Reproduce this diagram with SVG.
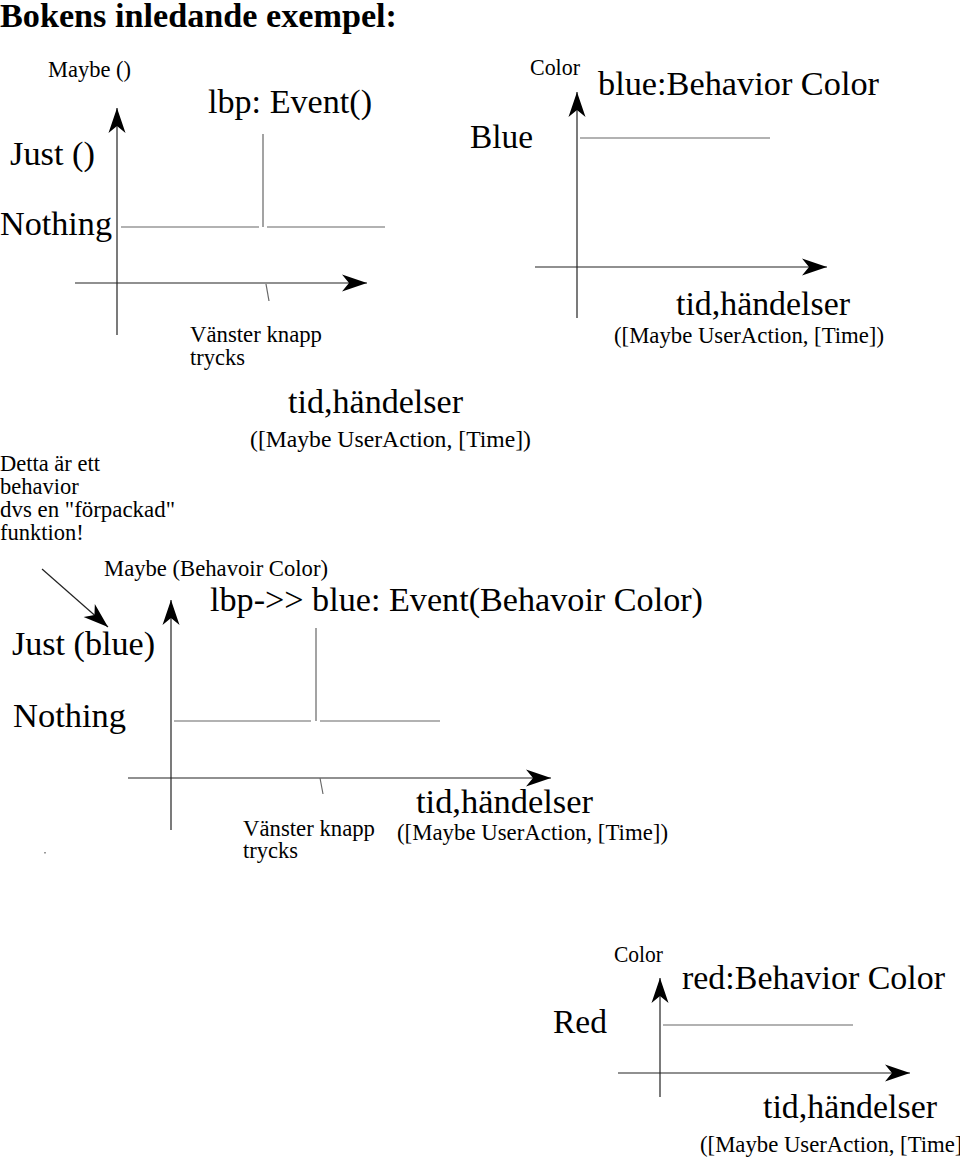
<svg xmlns="http://www.w3.org/2000/svg" width="960" height="1164" viewBox="0 0 960 1164">
  <style>
    text { font-family: "Liberation Serif", "Times New Roman", serif; fill: #000; }
    .big { font-size: 34px; }
    .small { font-size: 22.5px; }
    .title { font-size: 34px; font-weight: bold; }
    .axis { stroke: #222; stroke-width: 1.2; fill: none; }
    .level { stroke: #666; stroke-width: 1.2; fill: none; }
  </style>
  <defs>
    <marker id="arr" markerUnits="userSpaceOnUse" markerWidth="30" markerHeight="20" viewBox="-26 -10 28 20" refX="0" refY="0" orient="auto">
      <path d="M0,0 L-25,-8.5 L-18,0 L-25,8.5 Z" fill="#000"/>
    </marker>
  </defs>
  <rect width="960" height="1164" fill="#fff"/>

  <text id="title" class="title" x="0" y="27" textLength="397" lengthAdjust="spacingAndGlyphs">Bokens inledande exempel:</text>

  <g id="chart-lbp">
    <text class="small" x="48" y="77" textLength="83" lengthAdjust="spacingAndGlyphs">Maybe ()</text>
    <text class="big" x="208" y="113" textLength="164" lengthAdjust="spacingAndGlyphs">lbp: Event()</text>
    <text class="big" x="10" y="165" textLength="85" lengthAdjust="spacingAndGlyphs">Just ()</text>
    <text class="big" x="0" y="235" textLength="112" lengthAdjust="spacingAndGlyphs">Nothing</text>
    <line class="axis" x1="117" y1="335" x2="117" y2="108" marker-end="url(#arr)"/>
    <line class="axis" x1="75" y1="283" x2="367" y2="283" marker-end="url(#arr)"/>
    <line class="level" x1="121" y1="227" x2="259" y2="227"/>
    <line class="level" x1="263" y1="134" x2="263" y2="227"/>
    <line class="level" x1="267" y1="227" x2="385" y2="227"/>
    <line class="level" x1="266" y1="284" x2="269" y2="301"/>
    <text class="small" x="190" y="342" textLength="132" lengthAdjust="spacingAndGlyphs">Vänster knapp</text>
    <text class="small" x="190" y="365">trycks</text>
    <text class="big" x="288" y="413" textLength="175" lengthAdjust="spacingAndGlyphs">tid,händelser</text>
    <text class="small" x="250" y="447" textLength="281" lengthAdjust="spacingAndGlyphs">([Maybe UserAction, [Time])</text>
  </g>

  <g id="note">
    <text class="small" x="0" y="471">Detta är ett</text>
    <text class="small" x="0" y="494">behavior</text>
    <text class="small" x="0" y="517" textLength="175" lengthAdjust="spacingAndGlyphs">dvs en "förpackad"</text>
    <text class="small" x="0" y="540">funktion!</text>
  </g>

  <g id="chart-blue">
    <text class="small" x="530" y="75" textLength="50" lengthAdjust="spacingAndGlyphs">Color</text>
    <text class="big" x="598" y="95" textLength="281" lengthAdjust="spacingAndGlyphs">blue:Behavior Color</text>
    <text class="big" x="470" y="148" textLength="63" lengthAdjust="spacingAndGlyphs">Blue</text>
    <line class="axis" x1="577" y1="318" x2="577" y2="92" marker-end="url(#arr)"/>
    <line class="axis" x1="535" y1="267" x2="827" y2="267" marker-end="url(#arr)"/>
    <line class="level" x1="580" y1="138" x2="770" y2="138"/>
    <text class="big" x="676" y="315" textLength="174" lengthAdjust="spacingAndGlyphs">tid,händelser</text>
    <text class="small" x="614" y="343" textLength="270" lengthAdjust="spacingAndGlyphs">([Maybe UserAction, [Time])</text>
  </g>

  <g id="chart-lbp-blue">
    <text class="small" x="104" y="576" textLength="224" lengthAdjust="spacingAndGlyphs">Maybe (Behavoir Color)</text>
    <text class="big" x="210" y="611" textLength="493" lengthAdjust="spacingAndGlyphs">lbp-&gt;&gt; blue: Event(Behavoir Color)</text>
    <text class="big" x="12" y="655" textLength="143" lengthAdjust="spacingAndGlyphs">Just (blue)</text>
    <text class="big" x="13" y="727" textLength="113" lengthAdjust="spacingAndGlyphs">Nothing</text>
    <line class="axis" x1="171" y1="830" x2="171" y2="600" marker-end="url(#arr)"/>
    <line class="axis" x1="128" y1="778" x2="551" y2="778" marker-end="url(#arr)"/>
    <line class="level" x1="174" y1="721" x2="311" y2="721"/>
    <line class="level" x1="316" y1="628" x2="316" y2="721"/>
    <line class="level" x1="320" y1="721" x2="440" y2="721"/>
    <line class="level" x1="320" y1="778" x2="323" y2="794"/>
    <text class="big" x="416" y="813" textLength="177" lengthAdjust="spacingAndGlyphs">tid,händelser</text>
    <text class="small" x="397" y="840" textLength="271" lengthAdjust="spacingAndGlyphs">([Maybe UserAction, [Time])</text>
    <text class="small" x="243" y="836" textLength="132" lengthAdjust="spacingAndGlyphs">Vänster knapp</text>
    <text class="small" x="243" y="858">trycks</text>
    <rect x="44" y="852" width="2" height="1.5" fill="#999"/>
  </g>

  <g id="chart-red">
    <text class="small" x="614" y="962" textLength="49" lengthAdjust="spacingAndGlyphs">Color</text>
    <text class="big" x="682" y="989" textLength="263" lengthAdjust="spacingAndGlyphs">red:Behavior Color</text>
    <text class="big" x="553" y="1033" textLength="54" lengthAdjust="spacingAndGlyphs">Red</text>
    <line class="axis" x1="660" y1="1097" x2="660" y2="978" marker-end="url(#arr)"/>
    <line class="axis" x1="618" y1="1073" x2="910" y2="1073" marker-end="url(#arr)"/>
    <line class="level" x1="663" y1="1025" x2="853" y2="1025"/>
    <text class="big" x="763" y="1118" textLength="174" lengthAdjust="spacingAndGlyphs">tid,händelser</text>
    <text class="small" x="700" y="1152" textLength="270" lengthAdjust="spacingAndGlyphs">([Maybe UserAction, [Time])</text>
  </g>

  <g id="connectors">
    <line class="axis" x1="42" y1="569" x2="108" y2="627" marker-end="url(#arr)"/>
  </g>
</svg>
